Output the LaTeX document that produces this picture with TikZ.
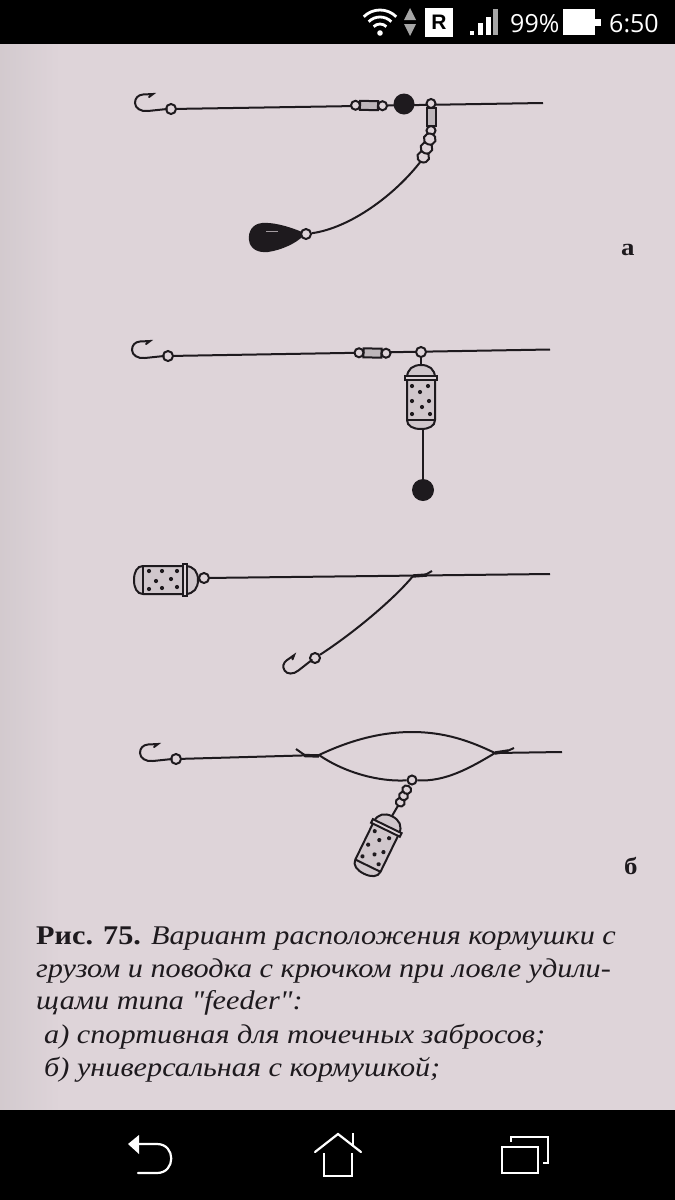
\documentclass[tikz,border=0pt]{standalone}
\usepackage{fontspec}
\setmainfont[FakeStretch=1.12, Ligatures=TeXOff]{Liberation Serif}
\newfontfamily\barfont{Open Sans}
\newfontfamily\boxfont{Liberation Sans}
\usetikzlibrary{backgrounds}
\definecolor{paper}{HTML}{DED4D9}
\definecolor{ink}{HTML}{1E1A1E}
\tikzset{
  wire/.style={draw=ink, line width=2pt},
  ring/.style={circle, draw=ink, fill=paper, line width=2pt, inner sep=0pt, minimum size=10pt},
  ball/.style={circle, fill=ink, inner sep=0pt, minimum size=#1},
  lab/.style={anchor=base west, inner sep=0pt, text=ink, font=\fontsize{27}{27}\selectfont},
  icon/.style={draw=white, line width=2.2pt},
  swivel/.pic={
    \draw[wire, fill=paper!65!gray] (-9,-4.5) rectangle (9,4.5);
    \draw[wire, fill=paper] (-13.5,0) circle (4.5);
    \draw[wire, fill=paper] (13.5,0) circle (4.5);
  },
  beads/.pic={
    \foreach \dx in {-9.5,0,9.5}
      \draw[wire, fill=paper] (\dx,0) ellipse (5.5 and 6);
  },
  hook/.pic={
    \draw[wire, line cap=round] (-4,0) -- (-23,2) .. controls (-30,3) and (-36,-1) .. (-36,-6)
      .. controls (-36,-11) and (-33,-14) .. (-28,-14.5) -- (-18,-15) -- (-22,-12);
  },
  feeder/.pic={
    \draw[wire, fill=paper!85!gray] (-14,-19) .. controls (-14,-28) and (-8,-32) .. (0,-32)
      .. controls (8,-32) and (14,-28) .. (14,-19) -- (14,23)
      .. controls (14,29) and (8,32) .. (0,32) .. controls (-8,32) and (-14,29) .. (-14,23) -- cycle;
    \draw[wire, fill=paper] (-16,-21) rectangle (16,-17);
    \draw[wire] (-14,23) -- (14,23);
    \foreach \dx/\dy in {-9/-11,7/-11,-1/-5,-9/4,8/4,1/10,-9/17,9/17}
      \fill[ink] (\dx,\dy) circle (2.1);
  },
}

\begin{document}
\begin{tikzpicture}[x=1pt, y=-1pt]
  \useasboundingbox (0,0) rectangle (675,1200);

  % first rig
  \node[ring] (hookaa) at (171,109) {};
  \pic[rotate=-1] at (369,105.5) {swivel};
  \node[ball=21pt] (beadaa) at (404,104) {};
  \pic[rotate=90] at (431,117) {swivel};
  \pic[rotate=70] at (426.5,148) {beads};
  \node[ring] (ringac) at (306,234) {};
  \coordinate (endaa) at (543,103);
  \coordinate (topaa) at (421,161);
  \pic at (171,109) {hook};
  \fill[ink] (302,232) .. controls (288,226) and (272,222) .. (262,223)
    .. controls (252,224) and (248,232) .. (249,240) .. controls (250,249) and (258,253) .. (268,252)
    .. controls (282,250) and (296,243) .. (302,237) -- cycle;
  \draw[paper!70!ink, line width=.8pt] (266,231.5) -- (278,231.5);

  % second rig
  \node[ring] (hookba) at (168,356) {};
  \pic[rotate=-1] at (372.5,353) {swivel};
  \node[ring] (ringba) at (421,352) {};
  \pic at (421,397) {feeder};
  \coordinate (endba) at (550,349.5);
  \coordinate (topba) at (421,365);
  \coordinate (botba) at (423,429);
  \node[ball=22pt] (ballba) at (423,490) {};
  \pic at (168,356) {hook};

  % third rig
  \pic[rotate=-90] at (166,580) {feeder};
  \node[ring] (ringca) at (204,578) {};
  \node[ring] (hookca) at (315,658) {};
  \coordinate (endca) at (550,574);
  \coordinate (knotca) at (413,576);
  \pic[rotate=32, scale=.9] at (315,658) {hook};
  \draw[wire, line width=3.4pt] (413,576) -- (427,575);
  \draw[wire] (425,575) -- (432,571);

  % fourth rig
  \node[ring] (hookda) at (176,759) {};
  \coordinate (knotda) at (319,755);
  \coordinate (knotdb) at (495,753);
  \coordinate (enddb) at (562,752);
  \node[ring, minimum size=9pt] (ringda) at (412,780) {};
  \pic[rotate=63, scale=.75] at (403.5,796) {beads};
  \coordinate (topda) at (399,804);
  \pic[rotate=-26] at (378,845) {feeder};
  \coordinate (botda) at (392,816);
  \pic at (176,759) {hook};
  \draw[wire, line width=3.4pt] (304,755.5) -- (319,756);
  \draw[wire] (296,749) -- (306,756);
  \draw[wire, line width=3.4pt] (495,753) -- (508,751);
  \draw[wire] (505,752) -- (514,748);

  \begin{scope}[on background layer]
    \fill[paper] (0,0) rectangle (675,1200);
    \shade[left color=paper!88!gray, right color=paper] (0,44) rectangle (60,1110);
    \draw[wire] (hookaa) -- (endaa);
    \draw[wire] (topaa) .. controls (395,195) and (350,228) .. (ringac);
    \draw[wire] (hookba) -- (endba);
    \draw[wire] (ringba) -- (topba);
    \draw[wire] (botba) -- (ballba);
    \draw[wire] (ringca) -- (endca);
    \draw[wire] (knotca) .. controls (395,598) and (355,632) .. (hookca);
    \draw[wire] (hookda) -- (knotda);
    \draw[wire] (knotda) .. controls (355,738) and (385,732) .. (412,732)
      .. controls (445,732) and (470,741) .. (knotdb);
    \draw[wire] (knotda) .. controls (345,773) and (380,782) .. (ringda)
      .. controls (445,782) and (470,768) .. (knotdb);
    \draw[wire] (knotdb) -- (enddb);
    \draw[wire] (topda) -- (botda);
  \end{scope}

  % side letters
  \node[lab, font=\bfseries\fontsize{24}{24}\selectfont] (leta) at (621,255) {а};
  \node[lab, font=\bfseries\fontsize{24}{24}\selectfont] (letb) at (624,874) {б};

  % caption
  \node[lab] (capa) at (36,944) {\textbf{Рис. 75.} \textit{Вариант расположения кормушки с}};
  \node[lab] (capb) at (36,977) {\textit{грузом и поводка с крючком при ловле удили-}};
  \node[lab] (capc) at (36,1009) {\textit{щами типа "feeder":}};
  \node[lab] (capd) at (44,1043) {\textit{а) спортивная для точечных забросов;}};
  \node[lab] (cape) at (44,1076) {\textit{б) универсальная с кормушкой;}};

  % status bar
  \fill[black] (0,0) rectangle (675,44);
  \fill[black] (0,1110) rectangle (675,1200);
  \foreach \r in {9,16,23}
    \draw[icon, line width=2.8pt] (380,33) ++(225:\r) arc[start angle=225, end angle=315, radius=\r];
  \fill[white] (380,33) circle (2.8);
  \fill[gray!70] (410,8) -- (416,20) -- (404,20) -- cycle;
  \fill[gray!70] (410,36) -- (416,24) -- (404,24) -- cycle;
  \fill[white] (425,8) rectangle (453,37);
  \node[inner sep=0pt, text=black, font=\boxfont\bfseries\fontsize{21}{21}\selectfont] (rbox) at (439,22.5) {R};
  \fill[white] (470,31) rectangle (474,35);
  \fill[white] (478,23) rectangle (483,35);
  \fill[white] (486,17) rectangle (491,35);
  \fill[gray!70] (493,9) rectangle (498,35);
  \node[anchor=base west, inner sep=0pt, text=white, font=\barfont\fontsize{25}{25}\selectfont] (batt) at (510,32) {99\%};
  \fill[white] (563,9) rectangle (595,35);
  \fill[white] (595,19) rectangle (601,26);
  \node[anchor=base west, inner sep=0pt, text=white, font=\barfont\fontsize{25}{25}\selectfont] (clock) at (609,32) {6:50};

  % navigation bar
  \fill[white] (128,1144) -- (139,1135) -- (139,1154) -- cycle;
  \draw[icon, line cap=round] (139,1144) -- (157,1144) .. controls (176,1144) and (176,1173) .. (157,1173) -- (138,1173);
  \draw[icon, line cap=round] (315,1152) -- (338,1134) -- (361,1152);
  \draw[icon] (353,1133) -- (353,1146);
  \draw[icon] (324,1153) -- (324,1176) -- (352,1176) -- (352,1153);
  \draw[icon] (502,1147) rectangle (538,1173);
  \draw[icon] (511,1142) -- (511,1137) -- (548,1137) -- (548,1163) -- (543,1163);
\end{tikzpicture}
\end{document}
